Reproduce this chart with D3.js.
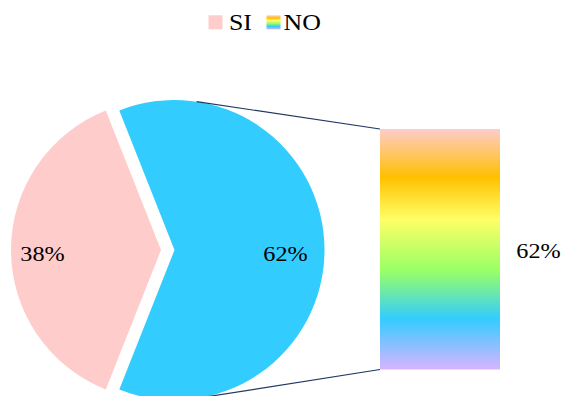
<!DOCTYPE html>
<html>
<head>
<meta charset="utf-8">
<script src="https://cdn.jsdelivr.net/npm/d3@7"></script>
<style>
  html, body { margin: 0; padding: 0; background: #fff; }
  svg { display: block; }
</style>
</head>
<body>
<svg id="chart" width="562" height="396"></svg>
<script>
// ---- data ----
const categories = ["SI", "NO"];
const values = [38, 62];
const sliceColors = ["#FFCCCC", "#33CCFF"];
const barCategories = ["NO"];
const barValues = [62];
const barGradientStops = [
  { offset: 0.00, color: "#FFCCCC" },
  { offset: 0.20, color: "#FFC000" },
  { offset: 0.375, color: "#FFFF66" },
  { offset: 0.59, color: "#99FF66" },
  { offset: 0.79, color: "#33CCFF" },
  { offset: 1.00, color: "#D9B3FF" }
];

// ---- layout ----
const svg = d3.select("#chart");
const FONT = "Liberation Serif";
const cx = 174.5, cy = 250, R = 150;
const explode = 13.5;
const labelSize = 22, legendSize = 23.5, stretch = 1.1;

function addText(parent, x, y, str, size, anchor) {
  return parent.append("text")
    .attr("transform", `translate(${x},${y}) scale(${stretch},1)`)
    .attr("font-family", FONT)
    .attr("font-size", size)
    .attr("fill", "#000")
    .attr("text-anchor", anchor)
    .text(str);
}

const defs = svg.append("defs");
const grad = defs.append("linearGradient").attr("id", "barGrad")
  .attr("x1", 0).attr("y1", 0).attr("x2", 0).attr("y2", 1);
grad.selectAll("stop").data(barGradientStops).join("stop")
  .attr("offset", d => d.offset).attr("stop-color", d => d.color);

const total = d3.sum(values);
const start = 1.5 * Math.PI - (values[0] / total) * Math.PI;
const pie = d3.pie().sort(null).value(d => d).startAngle(start).endAngle(start + 2 * Math.PI);
const arcs = pie(values);
const arc = d3.arc().innerRadius(0).outerRadius(R);

const pieG = svg.append("g").attr("transform", `translate(${cx},${cy})`);
arcs.forEach((a, i) => {
  const mid = (a.startAngle + a.endAngle) / 2;
  const off = i === 0 ? explode : 0;
  const dx = Math.sin(mid) * off, dy = -Math.cos(mid) * off;
  const g = pieG.append("g").attr("transform", `translate(${dx},${dy})`);
  g.append("path").attr("d", arc(a)).attr("fill", sliceColors[i]);
  const labelR = i === 0 ? R * 0.79 : R * 0.74;
  addText(g, Math.sin(mid) * labelR, -Math.cos(mid) * labelR + 10.5,
    Math.round(values[i] / total * 100) + "%", labelSize, "middle");
});

// ---- bar ----
const barX = 380, barW = 120;
const y = d3.scaleLinear().domain([0, d3.sum(barValues)]).range([369.5, 129]);
let acc = 0;
barValues.forEach((v, i) => {
  svg.append("rect")
    .attr("x", barX).attr("width", barW)
    .attr("y", y(acc + v)).attr("height", y(acc) - y(acc + v))
    .attr("fill", "url(#barGrad)");
  addText(svg, barX + barW + 38.5, (y(acc) + y(acc + v)) / 2 + 9,
    Math.round(v / total * 100) + "%", labelSize, "middle");
  acc += v;
});

// ---- connector lines (tangent from bar corners to circle) ----
function tangentPoint(px, py, upper) {
  const dx = px - cx, dy = py - cy;
  const d = Math.hypot(dx, dy);
  const base = Math.atan2(dy, dx);
  const a = Math.acos(R / d);
  const ang = upper ? base - a : base + a;
  return [cx + R * Math.cos(ang), cy + R * Math.sin(ang)];
}
const topCorner = [barX, y(d3.sum(barValues))];
const botCorner = [barX, y(0)];
const tp = tangentPoint(topCorner[0], topCorner[1], true);
const bp = tangentPoint(botCorner[0], botCorner[1], false);
[[tp, topCorner], [bp, botCorner]].forEach(([p, q]) => {
  svg.append("line").attr("x1", p[0]).attr("y1", p[1]).attr("x2", q[0]).attr("y2", q[1])
    .attr("stroke", "#1F3864").attr("stroke-width", 1.2);
});

// ---- legend ----
const lg = defs.append("linearGradient").attr("id", "legGrad")
  .attr("x1", 0).attr("y1", 0).attr("x2", 0).attr("y2", 1);
lg.selectAll("stop").data(barGradientStops).join("stop")
  .attr("offset", d => d.offset).attr("stop-color", d => d.color);
const legendIcons = [{ fill: sliceColors[0] }, { fill: "url(#legGrad)" }];

const legendX = [208.5, 266.5];
const legend = svg.append("g");
categories.forEach((c, i) => {
  legend.append("rect").attr("x", legendX[i]).attr("y", 15.3).attr("width", 14).attr("height", 14)
    .attr("fill", legendIcons[i].fill);
  addText(legend, legendX[i] + (i === 0 ? 20.5 : 17), 30, c, legendSize, "start");
});
</script>
</body>
</html>
